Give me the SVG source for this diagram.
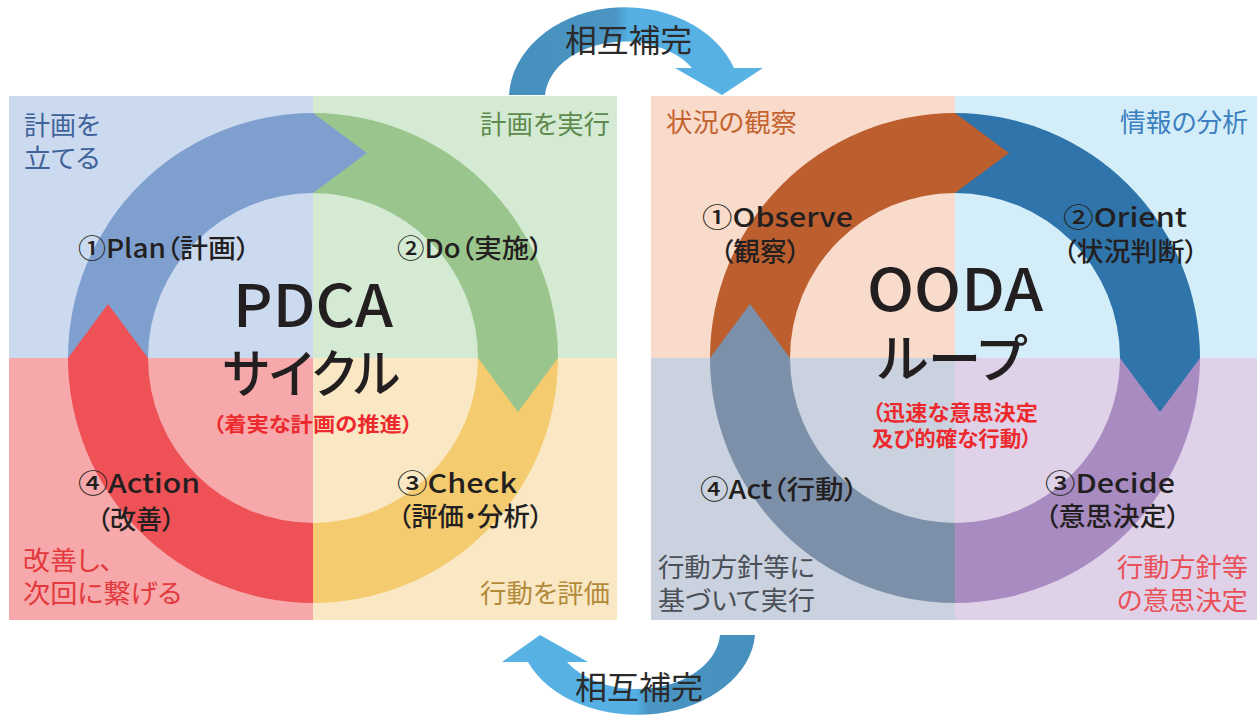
<svg xmlns="http://www.w3.org/2000/svg" width="1257" height="715" viewBox="0 0 1257 715">
<defs>
<style>
text{font-family:"Noto Sans CJK JP","Noto Sans",sans-serif;font-feature-settings:"palt";}
.lbl{font-size:26px;font-weight:500;fill:#231F20;}
.corner{font-size:26px;font-weight:400;}
.big{font-size:58px;font-weight:500;fill:#231F20;}
.kana{font-size:52px;font-weight:500;fill:#231F20;}
.red{font-size:20px;font-weight:700;fill:#EC2A2E;}
.mutual{font-size:32px;font-weight:400;fill:#2B2B2B;}
</style>
<linearGradient id="gTop" x1="509" y1="0" x2="763" y2="0" gradientUnits="userSpaceOnUse">
<stop offset="0" stop-color="#4690BE"/><stop offset="0.42" stop-color="#4A95C3"/><stop offset="0.47" stop-color="#55AFE2"/><stop offset="1" stop-color="#58B2E4"/>
</linearGradient>
<linearGradient id="gBot" x1="755" y1="0" x2="502" y2="0" gradientUnits="userSpaceOnUse">
<stop offset="0" stop-color="#4690BE"/><stop offset="0.42" stop-color="#4A95C3"/><stop offset="0.47" stop-color="#55AFE2"/><stop offset="1" stop-color="#58B2E4"/>
</linearGradient>
</defs>
<rect width="1257" height="715" fill="#FFFFFF"/>

<g id="pdca">
<g id="pdca-bg">
<rect x="9" y="96" width="304" height="262" fill="#CCDAF0"/>
<rect x="313" y="96" width="304" height="262" fill="#D5EAD3"/>
<rect x="9" y="358" width="304" height="262" fill="#F6A8AA"/>
<rect x="313" y="358" width="304" height="262" fill="#FAE8C5"/>
</g>
<g id="pdca-ring">
<path d="M68,358 A245,245 0 0 1 313,113 L313,193 A165,165 0 0 0 148,358 Z" fill="#7FA0CF"/>
<path d="M313,113 A245,245 0 0 1 558,358 L478,358 A165,165 0 0 0 313,193 Z" fill="#9AC68D"/>
<path d="M558,358 A245,245 0 0 1 313,603 L313,523 A165,165 0 0 0 478,358 Z" fill="#F5CB6F"/>
<path d="M313,603 A245,245 0 0 1 68,358 L148,358 A165,165 0 0 0 313,523 Z" fill="#EE5256"/>
<polygon points="313,113 367,153 313,193" fill="#7FA0CF"/>
<polygon points="478,358 558,358 518,412" fill="#9AC68D"/>
<polygon points="68,358 148,358 108,304" fill="#EE5256"/>
</g>
<g id="pdca-plan">
<text class="corner" x="24" y="135" fill="#3F6299" textLength="76" lengthAdjust="spacingAndGlyphs">計画を</text>
<text class="corner" x="24" y="168" fill="#3F6299" textLength="76" lengthAdjust="spacingAndGlyphs">立てる</text>
<text class="lbl" x="78" y="258" textLength="172" lengthAdjust="spacingAndGlyphs">①Plan（計画）</text>
</g>
<g id="pdca-do">
<text class="corner" x="480" y="134" fill="#5F8A4D" textLength="130" lengthAdjust="spacingAndGlyphs">計画を実行</text>
<text class="lbl" x="397" y="258" textLength="146" lengthAdjust="spacingAndGlyphs">②Do（実施）</text>
</g>
<g id="pdca-check">
<text class="lbl" x="397" y="493" textLength="120" lengthAdjust="spacingAndGlyphs">③Check</text>
<text class="lbl" x="398" y="526" textLength="145" lengthAdjust="spacingAndGlyphs">（評価・分析）</text>
<text class="corner" x="480" y="603" fill="#B38A3A" textLength="130" lengthAdjust="spacingAndGlyphs">行動を評価</text>
</g>
<g id="pdca-action">
<text class="lbl" x="78" y="493" textLength="122" lengthAdjust="spacingAndGlyphs">④Action</text>
<text class="lbl" x="97" y="529" textLength="78" lengthAdjust="spacingAndGlyphs">（改善）</text>
<text class="corner" x="23" y="570" fill="#E3393D" textLength="90" lengthAdjust="spacingAndGlyphs">改善し、</text>
<text class="corner" x="23" y="603" fill="#E3393D" textLength="159" lengthAdjust="spacingAndGlyphs">次回に繋げる</text>
</g>
<g id="pdca-center">
<text class="big" x="233" y="327" textLength="160" lengthAdjust="spacingAndGlyphs">PDCA</text>
<text class="kana" x="223" y="393" textLength="177" lengthAdjust="spacingAndGlyphs">サイクル</text>
<text class="red" x="213" y="432" textLength="200" lengthAdjust="spacingAndGlyphs">（着実な計画の推進）</text>
</g>
</g>

<g id="ooda">
<g id="ooda-bg">
<rect x="651" y="96" width="304" height="262" fill="#F9DBCC"/>
<rect x="955" y="96" width="302" height="262" fill="#D3EEF9"/>
<rect x="651" y="358" width="304" height="262" fill="#C9D2DE"/>
<rect x="955" y="358" width="302" height="262" fill="#DFD1E7"/>
</g>
<g id="ooda-ring">
<path d="M710,358 A245,245 0 0 1 955,113 L955,193 A165,165 0 0 0 790,358 Z" fill="#BC5E2E"/>
<path d="M955,113 A245,245 0 0 1 1200,358 L1120,358 A165,165 0 0 0 955,193 Z" fill="#2F75AB"/>
<path d="M1200,358 A245,245 0 0 1 955,603 L955,523 A165,165 0 0 0 1120,358 Z" fill="#A88BC1"/>
<path d="M955,603 A245,245 0 0 1 710,358 L790,358 A165,165 0 0 0 955,523 Z" fill="#7D90A9"/>
<polygon points="955,113 1009,153 955,193" fill="#BC5E2E"/>
<polygon points="1120,358 1200,358 1160,412" fill="#2F75AB"/>
<polygon points="710,358 790,358 750,304" fill="#7D90A9"/>
</g>
<g id="ooda-observe">
<text class="corner" x="666" y="132" fill="#C4632F" textLength="131" lengthAdjust="spacingAndGlyphs">状況の観察</text>
<text class="lbl" x="702" y="227" textLength="151" lengthAdjust="spacingAndGlyphs">①Observe</text>
<text class="lbl" x="720" y="261" textLength="80" lengthAdjust="spacingAndGlyphs">（観察）</text>
</g>
<g id="ooda-orient">
<text class="corner" x="1120" y="132" fill="#3D7FC0" textLength="128" lengthAdjust="spacingAndGlyphs">情報の分析</text>
<text class="lbl" x="1063" y="227" textLength="124" lengthAdjust="spacingAndGlyphs">②Orient</text>
<text class="lbl" x="1063" y="261" textLength="135" lengthAdjust="spacingAndGlyphs">（状況判断）</text>
</g>
<g id="ooda-decide">
<text class="lbl" x="1045" y="493" textLength="130" lengthAdjust="spacingAndGlyphs">③Decide</text>
<text class="lbl" x="1045" y="526" textLength="135" lengthAdjust="spacingAndGlyphs">（意思決定）</text>
<text class="corner" x="1117" y="577" fill="#EA5058" textLength="131" lengthAdjust="spacingAndGlyphs">行動方針等</text>
<text class="corner" x="1117" y="610" fill="#EA5058" textLength="131" lengthAdjust="spacingAndGlyphs">の意思決定</text>
</g>
<g id="ooda-act">
<text class="lbl" x="700" y="499" textLength="158" lengthAdjust="spacingAndGlyphs">④Act（行動）</text>
<text class="corner" x="658" y="577" fill="#4B4F58" textLength="157" lengthAdjust="spacingAndGlyphs">行動方針等に</text>
<text class="corner" x="658" y="610" fill="#4B4F58" textLength="157" lengthAdjust="spacingAndGlyphs">基づいて実行</text>
</g>
<g id="ooda-center">
<text class="big" x="867" y="311" textLength="176" lengthAdjust="spacingAndGlyphs">OODA</text>
<text class="kana" x="878" y="378" textLength="149" lengthAdjust="spacingAndGlyphs">ループ</text>
<text class="red" x="872" y="420" textLength="166" lengthAdjust="spacingAndGlyphs" style="font-size:21px">（迅速な意思決定</text>
<text class="red" x="872" y="446" textLength="160" lengthAdjust="spacingAndGlyphs" style="font-size:21px">及び的確な行動）</text>
</g>
</g>

<g id="connectors">
<g id="mutual-top">
<path d="M509,95 A116,92 0 0 1 734,68 L763,68 L722,95 L675,68 L692,68 A80,58 0 0 0 545,95 Z" fill="url(#gTop)"/>
<text class="mutual" x="565" y="52" textLength="127" lengthAdjust="spacingAndGlyphs">相互補完</text>
</g>
<g id="mutual-bottom">
<path d="M755,635 A118,85 0 0 1 528,662 L502,662 L540,635 L588,662 L567,662 A83,58 0 0 0 720,635 Z" fill="url(#gBot)"/>
<text class="mutual" x="575" y="699" textLength="128" lengthAdjust="spacingAndGlyphs">相互補完</text>
</g>
</g>
</svg>
